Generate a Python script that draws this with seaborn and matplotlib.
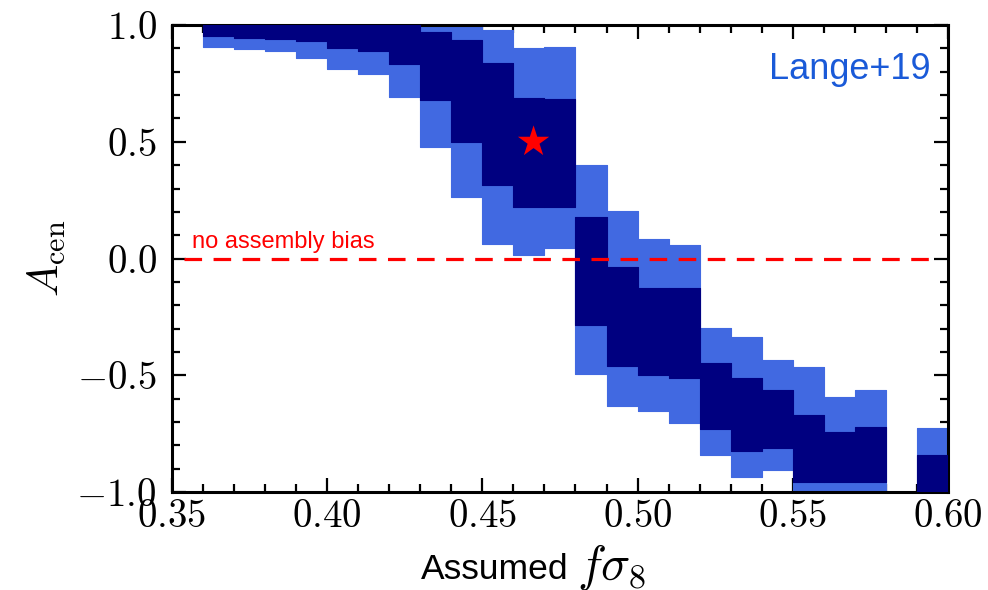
import numpy as np
import pandas as pd
import matplotlib
matplotlib.use("Agg")
import matplotlib.pyplot as plt
from matplotlib.ticker import MultipleLocator, FuncFormatter
import seaborn as sns

# Bin left edges in f*sigma_8 (bin width 0.01)
bin_left = [0.36, 0.37, 0.38, 0.39, 0.40, 0.41, 0.42, 0.43, 0.44, 0.45, 0.46,
            0.47, 0.48, 0.49, 0.50, 0.51, 0.52, 0.53, 0.54, 0.55, 0.56, 0.57,
            0.59]
# Outer (95%) credible interval of A_cen per bin
outer_lo = [0.907, 0.897, 0.889, 0.860, 0.810, 0.790, 0.693, 0.479, 0.265,
            0.061, 0.015, 0.044, -0.495, -0.632, -0.652, -0.706, -0.842,
            -0.934, -0.906, -1.0, -1.0, -1.0, -1.0]
outer_hi = [1.0, 1.0, 1.0, 1.0, 1.0, 1.0, 1.0, 1.0, 1.0, 0.979, 0.900, 0.904,
            0.400, 0.203, 0.082, 0.058, -0.299, -0.335, -0.435, -0.463,
            -0.592, -0.563, -0.725]
# Inner (68%) credible interval of A_cen per bin
inner_lo = [0.953, 0.946, 0.940, 0.930, 0.900, 0.889, 0.832, 0.679, 0.500,
            0.315, 0.222, 0.222, -0.285, -0.460, -0.499, -0.513, -0.732,
            -0.823, -0.813, -0.955, -0.955, -0.955, -1.0]
inner_hi = [1.0, 1.0, 1.0, 1.0, 1.0, 1.0, 1.0, 0.971, 0.936, 0.836, 0.686,
            0.682, 0.179, -0.035, -0.125, -0.125, -0.449, -0.513, -0.563,
            -0.670, -0.742, -0.720, -0.842]
bin_width = 0.01

# Best-fit point
best_x = [0.4665]
best_y = [0.5]

df = pd.DataFrame({"left": bin_left, "olo": outer_lo, "ohi": outer_hi,
                   "ilo": inner_lo, "ihi": inner_hi})

sns.set_style("ticks")
plt.rcParams["mathtext.fontset"] = "cm"
plt.rcParams["font.family"] = ["Liberation Sans", "DejaVu Sans"]
plt.rcParams["text.color"] = "black"
plt.rcParams["axes.labelcolor"] = "black"

fig = plt.figure(figsize=(9.88, 5.9), dpi=100)
ax = fig.add_axes([0.174, 0.166, 0.7855, 0.7915])

light = "#4169e1"
dark = "#000080"
ax.bar(df["left"], df["ohi"] - df["olo"], bottom=df["olo"], width=bin_width,
       align="edge", color=light, edgecolor=light, linewidth=0.8,
       joinstyle="round", zorder=2)
ax.bar(df["left"], df["ihi"] - df["ilo"], bottom=df["ilo"], width=bin_width,
       align="edge", color=dark, edgecolor=dark, linewidth=0.8,
       joinstyle="round", zorder=3)

# Zero assembly-bias reference line
zero = pd.DataFrame({"x": [0.354, 0.595], "y": [0.0, 0.0]})
sns.lineplot(data=zero, x="x", y="y", ax=ax, color="red", lw=2.3,
             linestyle=(0, (5.5, 3.6)), zorder=4)
ax.text(0.3565, 0.025, "no assembly bias", color="red", fontsize=17,
        ha="left", va="bottom")

ax.scatter(best_x, best_y, marker="*", s=560, color="red", edgecolors="none",
           zorder=5)

ax.text(0.977, 0.905, "Lange+19", transform=ax.transAxes, color="#1a5ad8",
        fontsize=26, ha="right", va="center")

ax.set_xlim(0.35, 0.60)
ax.set_ylim(-1.0, 1.0)
ax.xaxis.set_major_locator(MultipleLocator(0.05))
ax.xaxis.set_minor_locator(MultipleLocator(0.01))
ax.yaxis.set_major_locator(MultipleLocator(0.5))
ax.yaxis.set_minor_locator(MultipleLocator(0.1))
ax.xaxis.set_major_formatter(FuncFormatter(lambda v, p: f"${v:.2f}$"))
ax.yaxis.set_major_formatter(FuncFormatter(lambda v, p: f"${v:.1f}$"))
ax.tick_params(which="both", direction="in", top=True, right=True,
               width=1.6, colors="black", labelsize=28)
ax.tick_params(which="major", length=10)
ax.tick_params(which="minor", length=5.5)
ax.tick_params(axis="x", pad=5)
ax.tick_params(axis="y", pad=11)
for s in ax.spines.values():
    s.set_linewidth(2.2)
    s.set_color("black")

# x-axis title: plain word followed by a larger math symbol
ax.set_xlabel("")
fig.text(0.575, 0.018, "Assumed", fontsize=25.5, color="black",
         ha="right", va="baseline")
fig.text(0.584, 0.018, r"$f\sigma_8$", fontsize=35, color="black",
         ha="left", va="baseline")
ax.set_ylabel(r"$A_{\rm cen}$", fontsize=31, labelpad=6, color="black")

fig.savefig("out.png", dpi=100)
